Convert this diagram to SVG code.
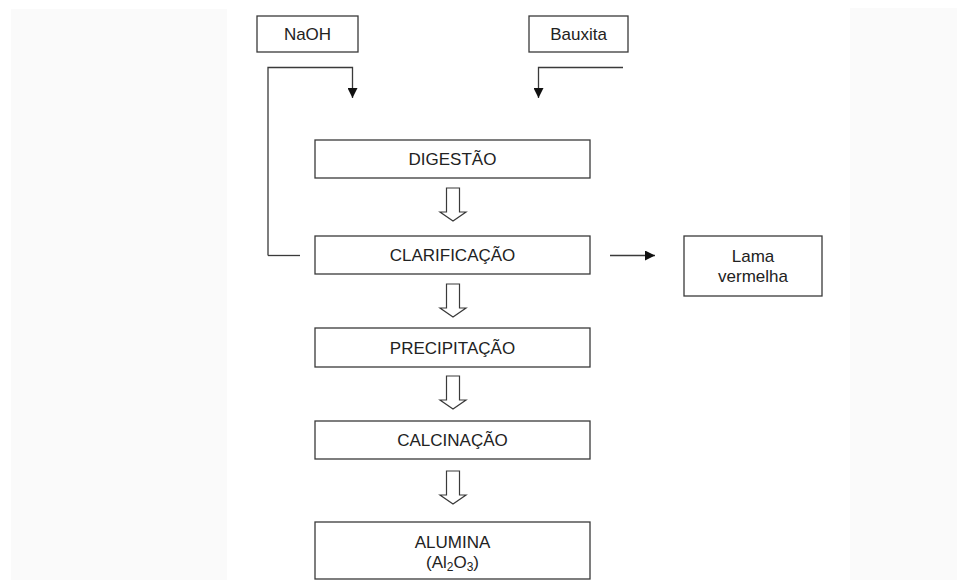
<svg xmlns="http://www.w3.org/2000/svg" width="957" height="580" viewBox="0 0 957 580">
<style>
.box{fill:#fff;stroke:#3a3a3a;stroke-width:1.3}
.ln{fill:none;stroke:#3a3a3a;stroke-width:1.3}
.blk{fill:#fff;stroke:#3a3a3a;stroke-width:1.2;stroke-linejoin:miter}
text{font-family:"Liberation Sans",Arial,sans-serif;font-size:17px;fill:#222;text-anchor:middle}
</style>
<defs>
<marker id="ah" markerWidth="10" markerHeight="10" refX="10" refY="5" orient="auto" markerUnits="userSpaceOnUse">
<path d="M0,0 L10,5 L0,10 Z" fill="#111"/>
</marker>
<path id="bigarrow" d="M-6.5,0 H6.5 V24 H13 L0,33 L-13,24 H-6.5 Z"/>
</defs>
<rect x="0" y="0" width="957" height="580" fill="#fff"/>
<rect x="11" y="9" width="216" height="571" fill="#fafafa"/>
<rect x="850" y="8" width="107" height="572" fill="#fafafa"/>
<g id="naoh"><rect class="box" x="257" y="16" width="101" height="36"/><text x="307.5" y="40">NaOH</text></g>
<g id="bauxita"><rect class="box" x="529" y="16" width="99" height="36"/><text x="578.5" y="40">Bauxita</text></g>
<g id="digestao"><rect class="box" x="315" y="140" width="275" height="38"/><text x="452.5" y="165">DIGESTÃO</text></g>
<g id="clarificacao"><rect class="box" x="315" y="236" width="275" height="38"/><text x="452.5" y="261">CLARIFICAÇÃO</text></g>
<g id="lama"><rect class="box" x="684" y="236" width="138" height="60"/><text x="753" y="262">Lama</text><text x="753" y="282">vermelha</text></g>
<g id="precipitacao"><rect class="box" x="315" y="328" width="275" height="39"/><text x="452.5" y="353.5">PRECIPITAÇÃO</text></g>
<g id="calcinacao"><rect class="box" x="315" y="421" width="275" height="38"/><text x="452.5" y="446">CALCINAÇÃO</text></g>
<g id="alumina"><rect class="box" x="315" y="522" width="275" height="57"/><text x="452.5" y="548">ALUMINA</text><text x="452.5" y="568">(Al<tspan font-size="12" dy="3">2</tspan><tspan dy="-3">O</tspan><tspan font-size="12" dy="3">3</tspan><tspan dy="-3">)</tspan></text></g>
<g id="connectors">
<path class="ln" d="M268,255.5 V67.5 H352.5 V98" marker-end="url(#ah)"/>
<path class="ln" d="M268,255.5 H300"/>
<path class="ln" d="M623,67.5 H538.5 V98" marker-end="url(#ah)"/>
<path class="ln" d="M610,255.5 H655" marker-end="url(#ah)"/>
<use href="#bigarrow" class="blk" x="453" y="188"/>
<use href="#bigarrow" class="blk" x="453" y="284"/>
<use href="#bigarrow" class="blk" x="453" y="376"/>
<use href="#bigarrow" class="blk" x="453" y="471"/>
</g>
</svg>
